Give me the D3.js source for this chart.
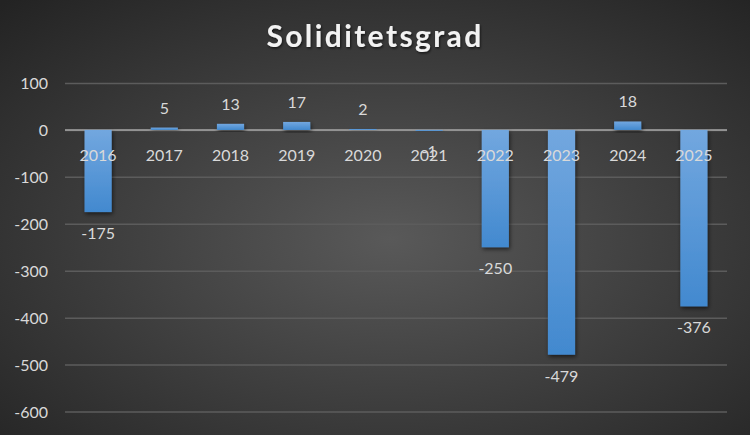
<!DOCTYPE html>
<html lang="nb">
<head>
  <meta charset="UTF-8">
  <title>Soliditetsgrad</title>
  <script src="https://d3js.org/d3.v7.min.js"></script>
  <style>
    html, body { margin: 0; padding: 0; background: #2b2b2b; }
    * { font-family: "Lato", "Open Sans", sans-serif; }
    .tick-label { fill: #d9d9d9; font-size: 16px; }
    .value-label { fill: #d9d9d9; font-size: 16px; }
    .title { fill: #f2f2f2; font-size: 30px; font-weight: 700; letter-spacing: 2.4px; }
  </style>
</head>
<body>
<div id="chart"></div>
<script>
  // ## Data
  const years = ["2016", "2017", "2018", "2019", "2020", "2021", "2022", "2023", "2024", "2025"];
  const values = [-175, 5, 13, 17, 2, -1, -250, -479, 18, -376];
  const yTicks = [100, 0, -100, -200, -300, -400, -500, -600];

  const dimensions = {
    width: 750,
    height: 435,
    margin: {top: 83, right: 23, bottom: 23, left: 65}
  };
  dimensions.boundedWidth = dimensions.width - dimensions.margin.left - dimensions.margin.right;
  dimensions.boundedHeight = 411.5 - dimensions.margin.top;

  const svg = d3.select("#chart")
    .append("svg")
      .attr("width", dimensions.width)
      .attr("height", dimensions.height);

  const defs = svg.append("defs");

  // background radial gradient
  const bg = defs.append("radialGradient")
      .attr("id", "bg")
      .attr("cx", "52%").attr("cy", "55%").attr("r", "75%");
  bg.append("stop").attr("offset", "0%").attr("stop-color", "#595959");
  bg.append("stop").attr("offset", "100%").attr("stop-color", "#232323");

  // bar gradient
  const barGrad = defs.append("linearGradient")
      .attr("id", "barGrad")
      .attr("x1", 0).attr("y1", 0).attr("x2", 0).attr("y2", 1);
  barGrad.append("stop").attr("offset", "0%").attr("stop-color", "#72a7df");
  barGrad.append("stop").attr("offset", "100%").attr("stop-color", "#4289cf");

  // bar shadow
  const shadow = defs.append("filter")
      .attr("id", "shadow")
      .attr("x", "-30%").attr("y", "-30%").attr("width", "160%").attr("height", "160%");
  shadow.append("feDropShadow")
      .attr("dx", 1).attr("dy", 2)
      .attr("stdDeviation", 2)
      .attr("flood-color", "#000")
      .attr("flood-opacity", 0.6);

  // title shadow
  const tshadow = defs.append("filter").attr("id", "tshadow");
  tshadow.append("feDropShadow")
      .attr("dx", 1).attr("dy", 1.5)
      .attr("stdDeviation", 1)
      .attr("flood-color", "#000")
      .attr("flood-opacity", 0.6);

  svg.append("rect")
      .attr("width", dimensions.width)
      .attr("height", dimensions.height)
      .attr("fill", "url(#bg)");

  svg.append("text")
      .attr("class", "title")
      .attr("x", dimensions.width / 2)
      .attr("y", 47)
      .attr("text-anchor", "middle")
      .attr("filter", "url(#tshadow)")
      .text("Soliditetsgrad");

  const bounds = svg.append("g")
      .attr("transform", `translate(${dimensions.margin.left},${dimensions.margin.top})`);

  // ## Scales
  const xScale = d3.scaleBand()
      .domain(years)
      .range([0, dimensions.boundedWidth])
      .paddingInner(0.59)
      .paddingOuter(0.295);

  const yScale = d3.scaleLinear()
      .domain([-600, 100])
      .range([dimensions.boundedHeight, 0]);

  // ## Gridlines + y axis (plain hyphen as minus, like the original)
  const yAxis = bounds.append("g")
      .call(d3.axisLeft(yScale)
        .tickValues(yTicks)
        .tickSize(-dimensions.boundedWidth)
        .tickPadding(17)
        .tickFormat(d => String(d)))
      .call(g => g.select(".domain").remove())
      .call(g => g.selectAll(".tick line")
        .attr("stroke", "#5c5c5c")
        .attr("stroke-width", 1.5))
      .call(g => g.selectAll(".tick text")
        .attr("class", "tick-label")
        .attr("dy", "0.36em"));

  // zero line
  bounds.append("line")
      .attr("x1", 0)
      .attr("x2", dimensions.boundedWidth)
      .attr("y1", yScale(0))
      .attr("y2", yScale(0))
      .attr("stroke", "#a6a6a6")
      .attr("stroke-width", 1.5);

  // ## Bars
  bounds.selectAll(".bar")
    .data(years)
    .enter()
    .append("rect")
      .attr("class", "bar")
      .attr("x", d => xScale(d))
      .attr("y", (d, i) => yScale(Math.max(0, values[i])))
      .attr("width", xScale.bandwidth())
      .attr("height", (d, i) => Math.max(1, Math.abs(yScale(values[i]) - yScale(0))))
      .attr("fill", "url(#barGrad)")
      .attr("filter", "url(#shadow)");

  // ## Category labels
  bounds.selectAll(".cat-label")
    .data(years)
    .enter()
    .append("text")
      .attr("class", "tick-label")
      .attr("x", d => xScale(d) + xScale.bandwidth() / 2)
      .attr("y", yScale(0) + 31)
      .attr("text-anchor", "middle")
      .text(d => d);

  // ## Value labels
  bounds.selectAll(".value-label")
    .data(years)
    .enter()
    .append("text")
      .attr("class", "value-label")
      .attr("x", d => xScale(d) + xScale.bandwidth() / 2)
      .attr("y", (d, i) => values[i] >= 0
        ? yScale(values[i]) - 14
        : yScale(values[i]) + 27)
      .attr("text-anchor", "middle")
      .text((d, i) => values[i]);
</script>
</body>
</html>
